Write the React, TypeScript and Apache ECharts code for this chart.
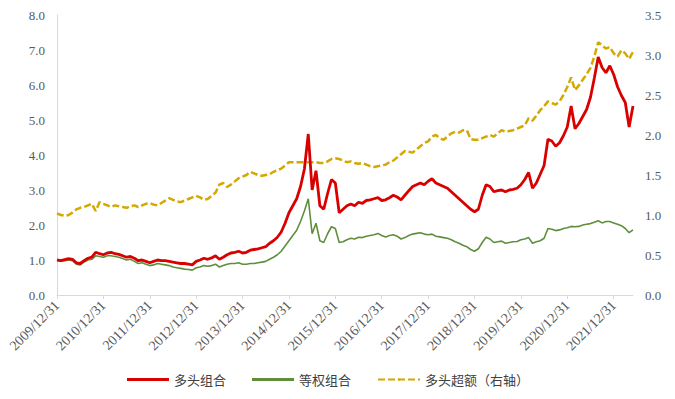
import React, { useEffect, useRef } from "react";
import * as echarts from "echarts";

const startYear = 2009;
const startMonth = 12;
const monthCount = 150;

const longPortfolio = [
  1.00,
  0.98, 1.01, 1.04, 1.02, 0.92, 0.90, 0.98, 1.05, 1.08, 1.22, 1.18, 1.15,
  1.20, 1.22, 1.18, 1.16, 1.12, 1.08, 1.10, 1.05, 0.98, 1.00, 0.96, 0.92,
  0.96, 1.00, 0.98, 0.98, 0.96, 0.94, 0.92, 0.90, 0.90, 0.88, 0.86, 0.96,
  1.00, 1.05, 1.02, 1.06, 1.12, 1.02, 1.08, 1.15, 1.20, 1.22, 1.25, 1.20,
  1.22, 1.28, 1.30, 1.32, 1.35, 1.38, 1.48, 1.55, 1.65, 1.80, 2.05, 2.35,
  2.55, 2.75, 3.10, 3.60, 4.60, 3.00, 3.55, 2.55, 2.45, 2.90, 3.30, 3.20,
  2.35, 2.45, 2.55, 2.60, 2.55, 2.65, 2.62, 2.70, 2.72, 2.75, 2.78, 2.70,
  2.72, 2.78, 2.85, 2.80, 2.72, 2.85, 2.98, 3.10, 3.15, 3.20, 3.15, 3.25,
  3.32, 3.20, 3.15, 3.10, 3.05, 2.95, 2.85, 2.75, 2.65, 2.55, 2.45, 2.38,
  2.45, 2.85, 3.15, 3.10, 2.95, 2.98, 3.00, 2.95, 3.00, 3.02, 3.05, 3.15,
  3.30, 3.50, 3.05, 3.20, 3.45, 3.70, 4.45, 4.40, 4.25, 4.35, 4.55, 4.80,
  5.40, 4.75, 4.90, 5.10, 5.30, 5.65, 6.20, 6.80, 6.50, 6.35, 6.55, 6.30,
  5.95, 5.70, 5.50, 4.80, 5.40,
];

const equalWeight = [
  1.00,
  0.97, 0.98, 1.00, 0.98, 0.88, 0.86, 0.94, 1.00, 1.02, 1.12, 1.10, 1.08,
  1.12, 1.12, 1.10, 1.08, 1.04, 1.00, 1.02, 0.96, 0.90, 0.92, 0.88, 0.84,
  0.86, 0.90, 0.88, 0.86, 0.84, 0.80, 0.78, 0.76, 0.74, 0.73, 0.71, 0.78,
  0.80, 0.84, 0.82, 0.84, 0.88, 0.80, 0.84, 0.88, 0.90, 0.90, 0.92, 0.88,
  0.88, 0.90, 0.90, 0.92, 0.94, 0.96, 1.02, 1.08, 1.15, 1.25, 1.40, 1.55,
  1.70, 1.85, 2.10, 2.40, 2.75, 1.75, 2.05, 1.55, 1.50, 1.75, 1.95, 1.90,
  1.50, 1.52, 1.58, 1.62, 1.60, 1.65, 1.64, 1.68, 1.70, 1.72, 1.76, 1.70,
  1.66, 1.70, 1.72, 1.68, 1.60, 1.64, 1.70, 1.74, 1.76, 1.78, 1.74, 1.72,
  1.74, 1.68, 1.66, 1.64, 1.62, 1.58, 1.52, 1.48, 1.42, 1.38, 1.30, 1.25,
  1.32, 1.50, 1.65, 1.60, 1.50, 1.52, 1.54, 1.48, 1.50, 1.52, 1.53, 1.58,
  1.60, 1.64, 1.48, 1.52, 1.55, 1.62, 1.90, 1.88, 1.84, 1.86, 1.90, 1.92,
  1.96, 1.95, 1.96, 2.00, 2.02, 2.04, 2.08, 2.12, 2.06, 2.10, 2.10, 2.06,
  2.02, 1.98, 1.90, 1.78, 1.86,
];

const longExcess = [
  1.02,
  1.00, 0.99, 1.00, 1.03, 1.07, 1.09, 1.10, 1.12, 1.14, 1.05, 1.16, 1.14,
  1.12, 1.10, 1.12, 1.11, 1.10, 1.09, 1.11, 1.12, 1.10, 1.12, 1.14, 1.15,
  1.13, 1.12, 1.15, 1.18, 1.21, 1.19, 1.17, 1.16, 1.18, 1.20, 1.22, 1.24,
  1.22, 1.19, 1.20, 1.24, 1.28, 1.38, 1.40, 1.35, 1.38, 1.42, 1.46, 1.48,
  1.50, 1.54, 1.52, 1.50, 1.49, 1.50, 1.51, 1.54, 1.56, 1.58, 1.62, 1.66,
  1.66, 1.66, 1.66, 1.66, 1.66, 1.66, 1.66, 1.65, 1.65, 1.67, 1.70, 1.71,
  1.70, 1.68, 1.66, 1.67, 1.65, 1.64, 1.65, 1.63, 1.61, 1.60, 1.61, 1.62,
  1.63, 1.66, 1.68, 1.72, 1.76, 1.80, 1.79, 1.78, 1.82, 1.86, 1.90, 1.92,
  1.98, 2.00, 1.96, 1.94, 1.98, 2.02, 2.04, 2.03, 2.06, 2.06, 1.95, 1.94,
  1.94, 1.96, 1.98, 2.00, 1.98, 2.02, 2.06, 2.04, 2.05, 2.06, 2.08, 2.10,
  2.12, 2.21, 2.18, 2.24, 2.31, 2.36, 2.42, 2.40, 2.38, 2.42, 2.50, 2.60,
  2.72, 2.56, 2.62, 2.69, 2.76, 2.84, 2.98, 3.16, 3.12, 3.08, 3.10, 3.02,
  2.98, 3.06, 3.02, 2.95, 3.04,
];

const seriesNames = ["多头组合", "等权组合", "多头超额（右轴）"];
const seriesColors = ["#d90000", "#5f8f3c", "#d4a800"];

function monthEnd(y: number, m: number): string {
  const d = new Date(y, m, 0).getDate();
  return `${y}/${m}/${d}`;
}

const dates: string[] = [];
{
  let y = startYear;
  let m = startMonth;
  for (let i = 0; i < monthCount; i++) {
    dates.push(monthEnd(y, m));
    m++;
    if (m > 12) {
      m = 1;
      y++;
    }
  }
}

const isYearEnd = (_i: number, v: string) => v.endsWith("/12/31");

export default function App() {
  const ref = useRef<HTMLDivElement>(null);
  useEffect(() => {
    if (!ref.current) return;
    const chart = echarts.init(ref.current, null, { renderer: "svg" });
    const font = "Liberation Serif";
    chart.setOption({
      animation: false,
      backgroundColor: "#ffffff",
      grid: { left: 57, right: 42, top: 15, bottom: 104, containLabel: false },
      legend: {
        bottom: 8,
        left: 122,
        itemWidth: 42,
        itemHeight: 3,
        itemGap: 26,
        textStyle: {
          color: "#404040",
          fontSize: 13,
          fontFamily: "Noto Sans CJK SC",
        },
        data: [
          { name: seriesNames[0], icon: "rect" },
          { name: seriesNames[1], icon: "rect", itemStyle: { color: seriesColors[1] } },
          { name: seriesNames[2] },
        ],
      },
      xAxis: {
        type: "category",
        data: dates,
        boundaryGap: false,
        axisLine: { show: true, lineStyle: { color: "#d9d9d9", width: 1 } },
        axisTick: {
          show: true,
          interval: isYearEnd,
          length: 4,
          inside: false,
          lineStyle: { color: "#d9d9d9" },
        },
        axisLabel: {
          interval: isYearEnd,
          rotate: 45,
          color: "#595959",
          fontSize: 14,
          fontFamily: font,
          margin: 8,
        },
        splitLine: { show: false },
      },
      yAxis: [
        {
          type: "value",
          min: 0,
          max: 8,
          interval: 1,
          axisLine: { show: true, lineStyle: { color: "#d9d9d9" } },
          axisTick: { show: false },
          splitLine: { show: false },
          axisLabel: {
            color: "#595959",
            fontSize: 13,
            fontFamily: font,
            margin: 12,
            formatter: (v: number) => v.toFixed(1),
          },
        },
        {
          type: "value",
          min: 0,
          max: 3.5,
          interval: 0.5,
          position: "right",
          axisLine: { show: false },
          axisTick: { show: false },
          splitLine: { show: false },
          axisLabel: {
            color: "#595959",
            fontSize: 13,
            fontFamily: font,
            margin: 12,
            formatter: (v: number) => v.toFixed(1),
          },
        },
      ],
      series: [
        {
          name: seriesNames[0],
          type: "line",
          data: longPortfolio,
          yAxisIndex: 0,
          showSymbol: false,
          symbol: "none",
          lineStyle: { color: seriesColors[0], width: 2.8 },
          itemStyle: { color: seriesColors[0] },
          z: 3,
        },
        {
          name: seriesNames[1],
          type: "line",
          data: equalWeight,
          yAxisIndex: 0,
          showSymbol: false,
          symbol: "none",
          lineStyle: { color: seriesColors[1], width: 1.6 },
          itemStyle: { color: seriesColors[1] },
          z: 2,
        },
        {
          name: seriesNames[2],
          type: "line",
          data: longExcess,
          yAxisIndex: 1,
          showSymbol: false,
          symbol: "none",
          lineStyle: { color: seriesColors[2], width: 2.5, type: [7, 3] },
          itemStyle: { color: seriesColors[2] },
          z: 1,
        },
      ],
    });
    return () => chart.dispose();
  }, []);
  return <div ref={ref} style={{ width: 675, height: 399, margin: -8 }} />;
}
